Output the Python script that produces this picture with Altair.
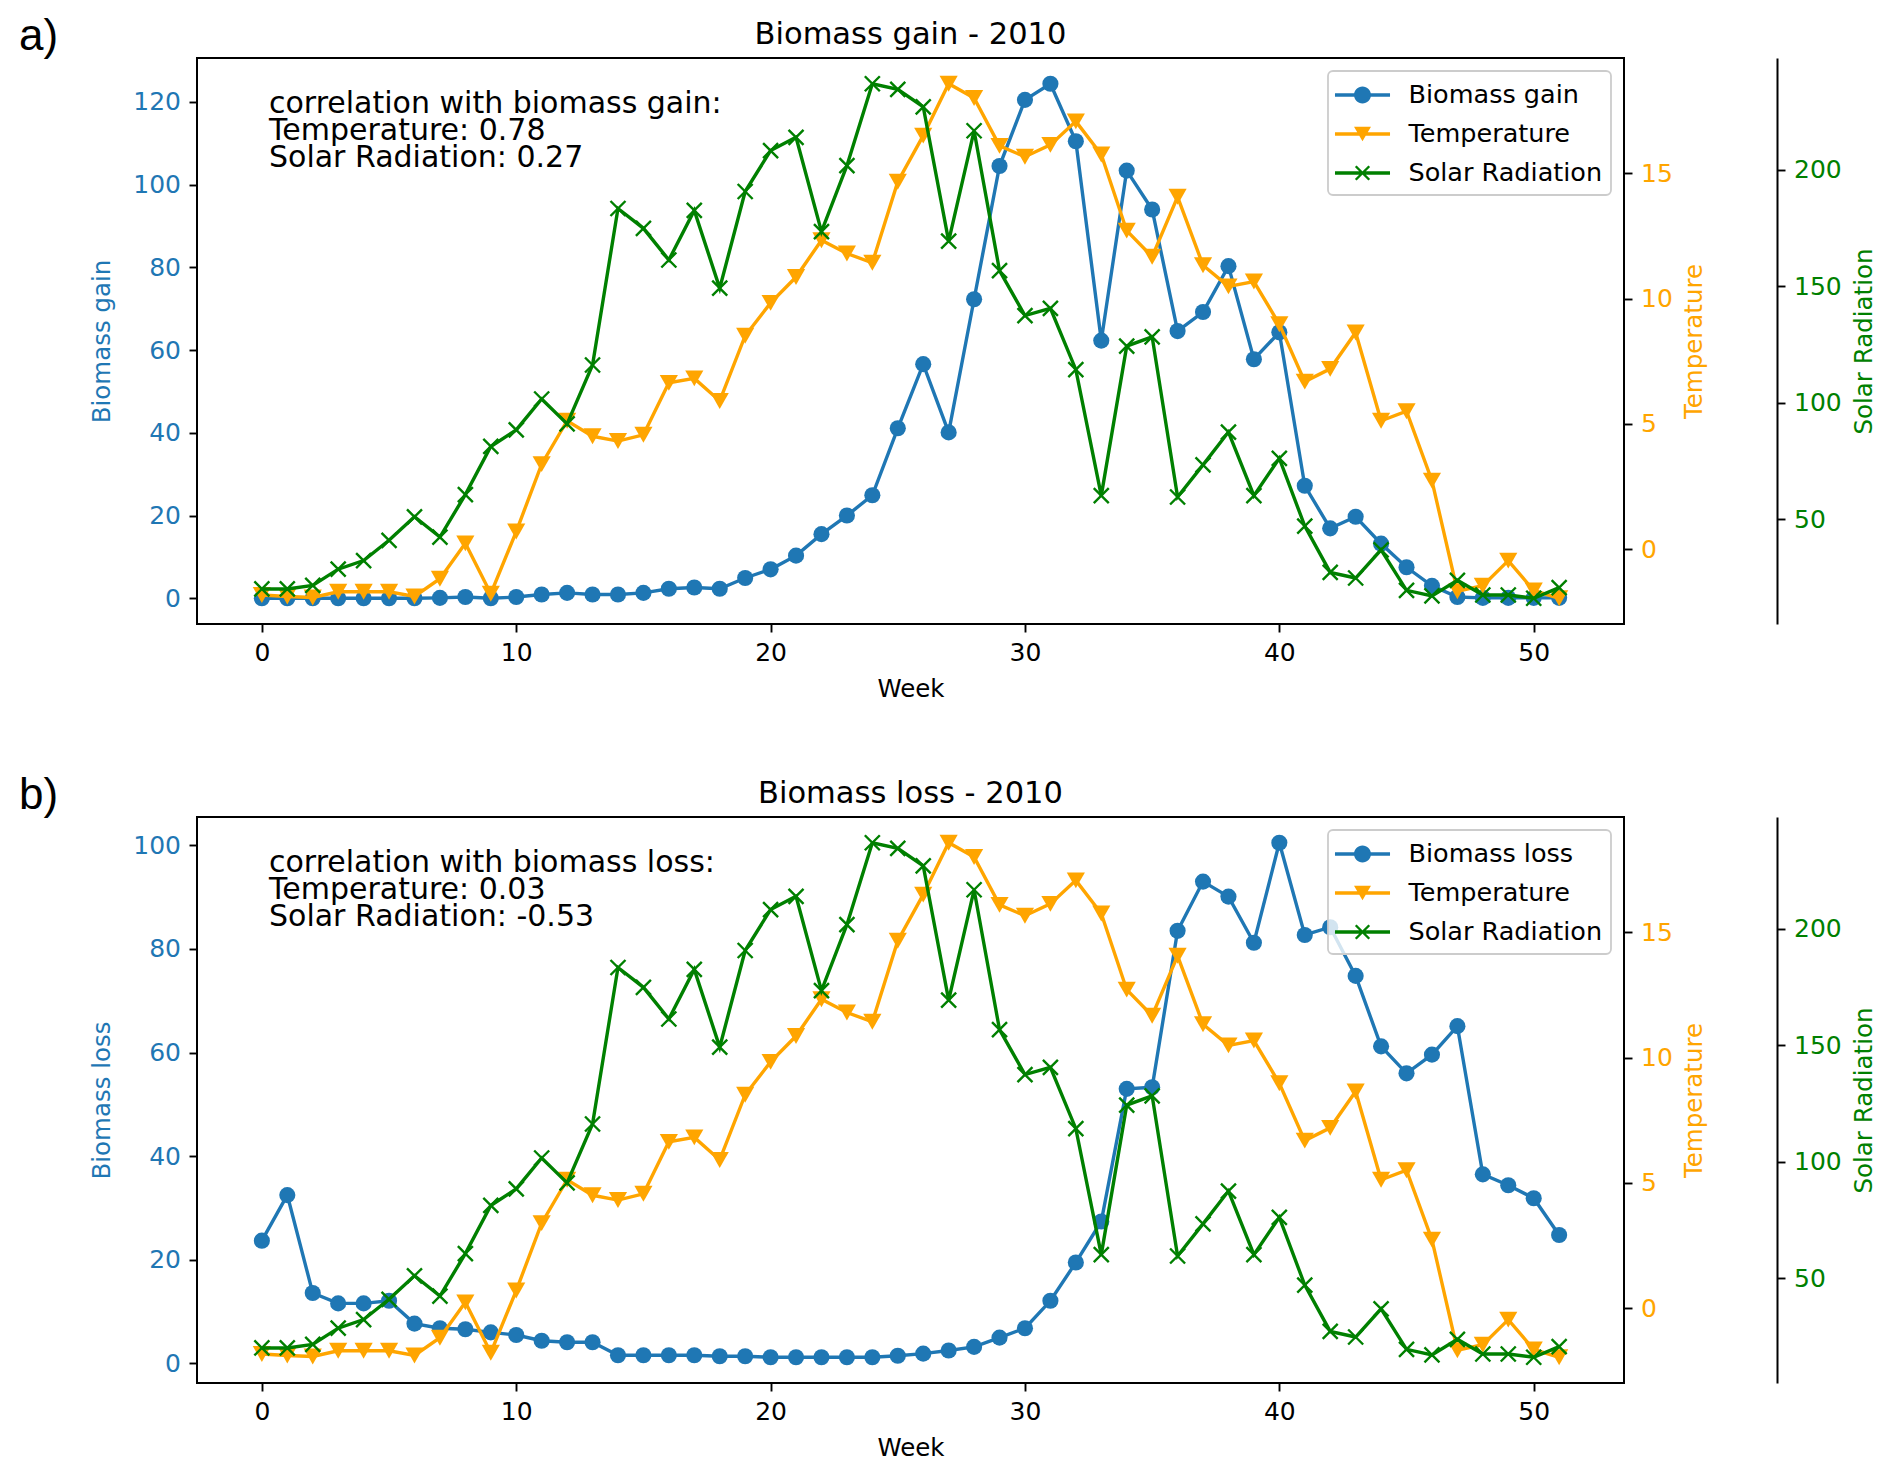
import altair as alt
import pandas as pd

weeks = list(range(52))
biomass_gain = [0, 0, 0, 0, 0, 0, 0, 0.1, 0.3, 0, 0.3, 0.9, 1.3, 0.9, 0.9, 1.3, 2.3, 2.6, 2.3, 4.9,
                7.0, 10.3, 15.5, 20.0, 24.9, 41.1, 56.6, 40.1, 72.3, 104.5, 120.5, 124.4, 110.5, 62.3,
                103.4, 94.0, 64.6, 69.2, 80.3, 57.8, 64.3, 27.2, 16.9, 19.7, 13.2, 7.5, 3.0, 0.3, 0.1,
                0.1, 0.1, 0.1]
biomass_loss = [23.7, 32.5, 13.6, 11.6, 11.6, 12.1, 7.7, 6.8, 6.6, 6.0, 5.5, 4.4, 4.1, 4.1, 1.6, 1.6,
                1.6, 1.6, 1.4, 1.4, 1.2, 1.2, 1.2, 1.2, 1.2, 1.5, 1.9, 2.5, 3.2, 5.0, 6.8, 12.1, 19.5,
                27.4, 53.0, 53.3, 83.5, 93.0, 90.1, 81.2, 100.5, 82.7, 84.2, 74.8, 61.2, 56.0, 59.6,
                65.1, 36.5, 34.4, 31.9, 24.8]
temperature = [-1.82, -1.88, -1.92, -1.69, -1.69, -1.69, -1.88, -1.17, 0.24, -1.77, 0.71, 3.40, 5.13,
               4.51, 4.32, 4.57, 6.64, 6.82, 5.92, 8.52, 9.83, 10.86, 12.33, 11.80, 11.43, 14.66, 16.50,
               18.57, 18.0, 16.09, 15.66, 16.13, 17.07, 15.75, 12.71, 11.67, 14.06, 11.33, 10.49, 10.68,
               8.98, 6.69, 7.20, 8.65, 5.13, 5.51, 2.74, -1.67, -1.45, -0.45, -1.64, -1.95]
solar_radiation = [20, 20, 21.5, 28.5, 32.2, 40.9, 51, 42.3, 60.5, 81.2, 88.3, 101.6, 90.9, 116.2,
                   183.4, 174.9, 161.3, 182.6, 149.2, 190.7, 208.3, 214, 173.5, 201.8, 237, 234.6,
                   227.1, 169.4, 216.8, 156.7, 137.4, 140.5, 114.2, 60.1, 124.3, 128.3, 59.5, 73.3,
                   87.4, 60.1, 76.1, 47, 27.1, 24.7, 36.8, 19.4, 17, 23.7, 17.4, 17.4, 16, 20.6]

x_ticks = [0, 10, 20, 30, 40, 50]
gain_ticks = [0, 20, 40, 60, 80, 100, 120]
loss_ticks = [0, 20, 40, 60, 80, 100]
temp_ticks = [0, 5, 10, 15]
solar_ticks = [50, 100, 150, 200]

gain_text = ["correlation with biomass gain:", "Temperature: 0.78", "Solar Radiation: 0.27"]
loss_text = ["correlation with biomass loss:", "Temperature: 0.03", "Solar Radiation: -0.53"]

BLUE = "#1f77b4"
ORANGE = "#ffa500"
GREEN = "#008000"
FONT = "DejaVu Sans"
W, H = 1427, 566

df = pd.DataFrame({"week": weeks, "gain": biomass_gain, "loss": biomass_loss,
                   "temp": temperature, "solar": solar_radiation})


def margin_domain(vals, m=0.05):
    lo, hi = min(vals), max(vals)
    r = hi - lo
    return [lo - m * r, hi + m * r]


# legend symbols: line + marker, drawn as filled paths
LINE = "M-1.72,-0.106L1.72,-0.106L1.72,0.106L-1.72,0.106Z"
LEG_CIRCLE = LINE + " M0.53,0A0.53,0.53 0 1,1 -0.53,0A0.53,0.53 0 1,1 0.53,0Z"
LEG_TRI = LINE + " M-0.53,-0.46L0.53,-0.46L0,0.46Z"
LEG_X = (LINE + " M-0.37,-0.476L0.476,0.37L0.37,0.476L-0.476,-0.37Z"
         " M-0.476,0.37L0.37,-0.476L0.476,-0.37L-0.37,0.476Z")

TRI = "M-1,-0.875L1,-0.875L0,0.875Z"
XMARK = "M-1,-1L1,1M-1,1L1,-1"


def panel(field, name, title_text, corr_lines, tag, bio_ticks):
    base = alt.Chart(df)
    x = alt.X("week:Q",
              scale=alt.Scale(domain=[-2.55, 53.55], nice=False, zero=False),
              axis=alt.Axis(values=x_ticks, title="Week", titleY=65, titleBaseline="middle",
                            labelColor="black", titleColor="black", domain=False))
    ybio = alt.Y(f"{field}:Q",
                 scale=alt.Scale(domain=margin_domain(df[field]), nice=False, zero=False),
                 axis=alt.Axis(orient="left", values=bio_ticks, title=name,
                               labelColor=BLUE, titleColor=BLUE, domain=False,
                               titleAngle=270, titleAlign="center", titleBaseline="middle",
                               titleX=-95, titleY=H / 2))
    ytemp = alt.Y("temp:Q",
                  scale=alt.Scale(domain=margin_domain(df["temp"]), nice=False, zero=False),
                  axis=alt.Axis(orient="right", values=temp_ticks, title="Temperature",
                                labelColor=ORANGE, titleColor=ORANGE, domain=False,
                                titleAngle=270, titleAlign="center", titleBaseline="middle",
                                titleX=70, titleY=H / 2))
    ysol = alt.Y("solar:Q",
                 scale=alt.Scale(domain=margin_domain(df["solar"]), nice=False, zero=False),
                 axis=alt.Axis(orient="right", offset=153, values=solar_ticks,
                               title="Solar Radiation", labelColor=GREEN, titleColor=GREEN,
                               domain=True, domainColor="black", domainWidth=2,
                               titleAngle=270, titleAlign="center", titleBaseline="middle",
                               titleX=87, titleY=H / 2))

    bio = alt.layer(
        base.mark_line(color=BLUE, strokeWidth=3.4).encode(x=x, y=ybio),
        base.mark_point(shape="circle", filled=True, size=260, color=BLUE, opacity=1).encode(x=x, y=ybio),
    )
    temp = alt.layer(
        base.mark_line(color=ORANGE, strokeWidth=3.4).encode(x=x, y=ytemp),
        base.mark_point(shape=TRI, filled=True, size=330, color=ORANGE, opacity=1).encode(x=x, y=ytemp),
    )
    sol = alt.layer(
        base.mark_line(color=GREEN, strokeWidth=3.4).encode(x=x, y=ysol),
        base.mark_point(shape=XMARK, filled=False, size=225, strokeWidth=2.4, color=GREEN,
                        opacity=1).encode(x=x, y=ysol),
    )

    one = pd.DataFrame({"k": [0]})
    ann = alt.Chart(one).mark_text(
        text=corr_lines, font=FONT, fontSize=30, lineHeight=27, align="left",
        baseline="alphabetic", color="black"
    ).encode(x=alt.value(72), y=alt.value(55))
    lab = alt.Chart(one).mark_text(
        text=tag, font="Liberation Sans", fontSize=44, align="left",
        baseline="alphabetic", color="black"
    ).encode(x=alt.value(-178), y=alt.value(-8))
    ttl = alt.Chart(one).mark_text(
        text=title_text, font=FONT, fontSize=30.5, align="center",
        baseline="alphabetic", color="black"
    ).encode(x=alt.value(W / 2), y=alt.value(-14))

    names = [name, "Temperature", "Solar Radiation"]
    leg = alt.Legend(title=None, orient="top-right", offset=13, padding=8, cornerRadius=5,
                     fillColor="rgba(255,255,255,0.8)", strokeColor="#cccccc",
                     symbolSize=1024, symbolStrokeWidth=0, symbolOffset=10.5, symbolOpacity=1,
                     labelOffset=30, labelFontSize=25.5, labelFont=FONT, labelColor="black",
                     labelLimit=500, rowPadding=9)
    legend_layer = alt.Chart(pd.DataFrame({"series": names})).transform_filter(
        "datum.series == 'none'"
    ).mark_point(filled=True, opacity=1).encode(
        color=alt.Color("series:N", scale=alt.Scale(domain=names, range=[BLUE, ORANGE, GREEN]),
                        legend=leg),
        shape=alt.Shape("series:N", scale=alt.Scale(domain=names, range=[LEG_CIRCLE, LEG_TRI, LEG_X]),
                        legend=leg),
    )

    return alt.layer(bio, temp, sol, ann, lab, ttl, legend_layer).resolve_scale(
        y="independent"
    ).properties(width=W, height=H)


pa = panel("gain", "Biomass gain", "Biomass gain - 2010", gain_text, "a)", gain_ticks)
pb = panel("loss", "Biomass loss", "Biomass loss - 2010", loss_text, "b)", loss_ticks)

chart = alt.vconcat(pa, pb, spacing=71).resolve_scale(
    color="independent", shape="independent"
).resolve_legend(
    color="independent", shape="independent"
).configure_view(
    stroke="black", strokeWidth=2
).configure_axis(
    labelFont=FONT, titleFont=FONT, labelFontSize=25, titleFontSize=24.5,
    titleFontWeight="normal", tickColor="black", tickSize=8, tickWidth=1.9,
    labelPadding=8.5, grid=False, labelFlush=False, labelOverlap=False
).configure_legend(
    strokeWidth=1.8
).properties(
    padding={"left": 10, "top": 6, "right": 5, "bottom": 5},
    background="white",
)

chart.save("out.html", embed_options={"renderer": "svg", "actions": False})
